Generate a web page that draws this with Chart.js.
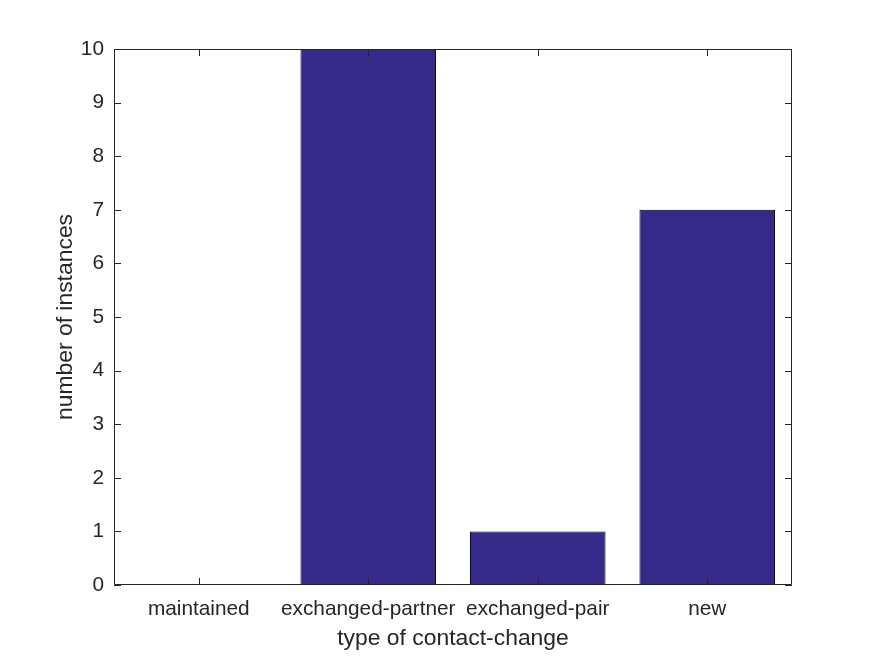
<!DOCTYPE html>
<html>
<head>
<meta charset="utf-8">
<script src="https://cdn.jsdelivr.net/npm/chart.js@4"></script>
<style>
html,body{margin:0;padding:0;background:#fff;}
canvas{display:block;}
</style>
</head>
<body>
<canvas id="c" width="875" height="656"></canvas>
<script>
const categories = ["maintained", "exchanged-partner", "exchanged-pair", "new"];
const instances = [0, 10, 1, 7];
const yTicks = [0, 1, 2, 3, 4, 5, 6, 7, 8, 9, 10];
const xTitle = "type of contact-change";
const yTitle = "number of instances";

const TEXT = "#262626";
const FONT = "'Liberation Sans', Arial, Helvetica, sans-serif";

const boxPlugin = {
  id: "box",
  afterDatasetsDraw(chart) {
    const {ctx, chartArea: a, scales: {x, y}} = chart;
    const tl = 7;
    ctx.save();
    ctx.strokeStyle = TEXT;
    ctx.lineWidth = 1;
    ctx.beginPath();
    ctx.rect(a.left + 0.5, a.top + 0.5, a.right - a.left - 1, a.bottom - a.top - 1);
    categories.forEach((c, i) => {
      const px = Math.round(x.getPixelForValue(i)) + 0.5;
      ctx.moveTo(px, a.bottom); ctx.lineTo(px, a.bottom - tl);
      ctx.moveTo(px, a.top); ctx.lineTo(px, a.top + tl);
    });
    yTicks.forEach(v => {
      const py = Math.round(y.getPixelForValue(v)) + 0.5;
      ctx.moveTo(a.left, py); ctx.lineTo(a.left + tl, py);
      ctx.moveTo(a.right, py); ctx.lineTo(a.right - tl, py);
    });
    ctx.stroke();
    ctx.restore();
  }
};

new Chart(document.getElementById("c"), {
  type: "bar",
  data: {
    labels: categories,
    datasets: [{
      data: instances,
      backgroundColor: "#352a87",
      borderColor: "#000000",
      borderWidth: 1,
      borderSkipped: false,
      barPercentage: 0.8,
      categoryPercentage: 1.0
    }]
  },
  options: {
    responsive: false,
    devicePixelRatio: 1,
    animation: false,
    layout: {padding: {top: 49, right: 83, left: 0, bottom: 0}},
    plugins: {legend: {display: false}, tooltip: {enabled: false}},
    scales: {
      x: {
        offset: true,
        grid: {display: false, drawTicks: false},
        border: {display: false},
        ticks: {color: TEXT, font: {family: FONT, size: 20.8}, padding: 12, maxRotation: 0, autoSkip: false},
        title: {display: true, text: xTitle, color: TEXT, font: {family: FONT, size: 22.9}, padding: {top: 0, bottom: 4}},
        afterFit(s) { s.height = 71; }
      },
      y: {
        min: 0, max: 10,
        grid: {display: false, drawTicks: false},
        border: {display: false},
        afterBuildTicks(s) { s.ticks = yTicks.map(v => ({value: v})); },
        ticks: {color: TEXT, font: {family: FONT, size: 20.8}, padding: 10},
        title: {display: true, text: yTitle, color: TEXT, font: {family: FONT, size: 22.9}, padding: {top: 52, bottom: 0}},
        afterFit(s) { s.width = 114; }
      }
    }
  },
  plugins: [boxPlugin]
});
</script>
</body>
</html>
